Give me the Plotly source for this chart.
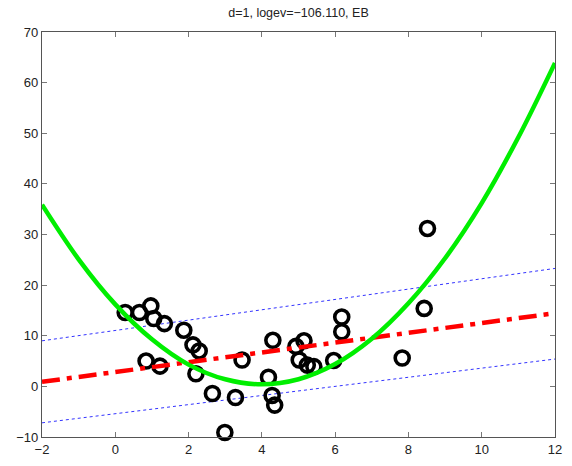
import plotly.graph_objects as go

pts_x = [0.27, 0.66, 0.97, 1.05, 1.34, 1.87, 2.12, 2.29, 0.84, 1.22, 2.2,
         2.65, 3.28, 2.99, 3.46, 4.18, 4.28, 4.35, 4.3, 4.93, 5.15, 5.02,
         5.24, 5.42, 5.96, 6.18, 6.18, 7.83, 8.43, 8.52]
pts_y = [14.6, 14.6, 15.9, 13.4, 12.4, 11.1, 8.2, 7.0, 5.0, 4.0, 2.5,
         -1.4, -2.2, -9.1, 5.2, 1.8, -1.8, -3.7, 9.1, 7.9, 9.0, 5.2,
         4.2, 3.9, 5.1, 10.8, 13.7, 5.6, 15.4, 31.2]

# Green curve
curve_x = [-2, -1, 0, 1, 2, 3, 4, 5, 6, 7, 8, 9, 10, 11, 12]
curve_y = [35.9, 25.1, 16.2, 9.3, 4.3, 1.4, 0.4, 1.4, 4.4, 9.4, 16.4,
           25.3, 36.2, 49.2, 63.9]

# Linear fit (red) and its band (blue), endpoints
line_x = [-2, 12]
mean_y = [0.9, 14.45]
upper_y = [9.0, 23.3]
lower_y = [-7.2, 5.4]

x_ticks = [-2, 0, 2, 4, 6, 8, 10, 12]
y_ticks = [-10, 0, 10, 20, 30, 40, 50, 60, 70]
title_text = "d=1, logev=\u2212106.110, EB"

fig = go.Figure()
fig.add_trace(go.Scatter(x=line_x, y=upper_y, mode="lines",
                         line=dict(color="#3333ff", width=1, dash="dot")))
fig.add_trace(go.Scatter(x=line_x, y=lower_y, mode="lines",
                         line=dict(color="#3333ff", width=1, dash="dot")))
fig.add_trace(go.Scatter(x=pts_x, y=pts_y, mode="markers", cliponaxis=False,
                         marker=dict(symbol="circle-open", size=14, color="black",
                                     line=dict(width=3.6, color="black"))))
fig.add_trace(go.Scatter(x=line_x, y=mean_y, mode="lines",
                         line=dict(color="#ff0000", width=4.5, dash="18px,7px,5px,7px")))
fig.add_trace(go.Scatter(x=curve_x, y=curve_y, mode="lines",
                         line=dict(color="#00ee00", width=4.5, shape="spline", smoothing=1)))

axis_common = dict(showline=True, linecolor="#555555", linewidth=1.2, mirror="ticks",
                   ticks="inside", ticklen=5, tickcolor="#777777", showgrid=False,
                   zeroline=False, tickfont=dict(family="Liberation Sans, Arial", size=13,
                                                 color="#222222"))
fig.update_xaxes(range=[-2, 12], tickvals=x_ticks, **axis_common)
fig.update_yaxes(range=[-10, 70], tickvals=y_ticks, **axis_common)

fig.update_layout(
    width=572, height=466,
    margin=dict(l=41.5, r=9.5, t=32.3, b=22.5),
    paper_bgcolor="white", plot_bgcolor="white",
    showlegend=False,
    hovermode=False,
    title=dict(text=title_text, x=0.5, xref="paper", xanchor="center", yref="container",
               y=0.972, yanchor="middle",
               font=dict(family="Liberation Sans, Arial", size=12.5, color="#222222")),
)

fig.write_html("out.html",
               config={"displayModeBar": False, "staticPlot": True},
               post_script="document.body.style.margin='0';document.body.style.overflow='hidden';")
